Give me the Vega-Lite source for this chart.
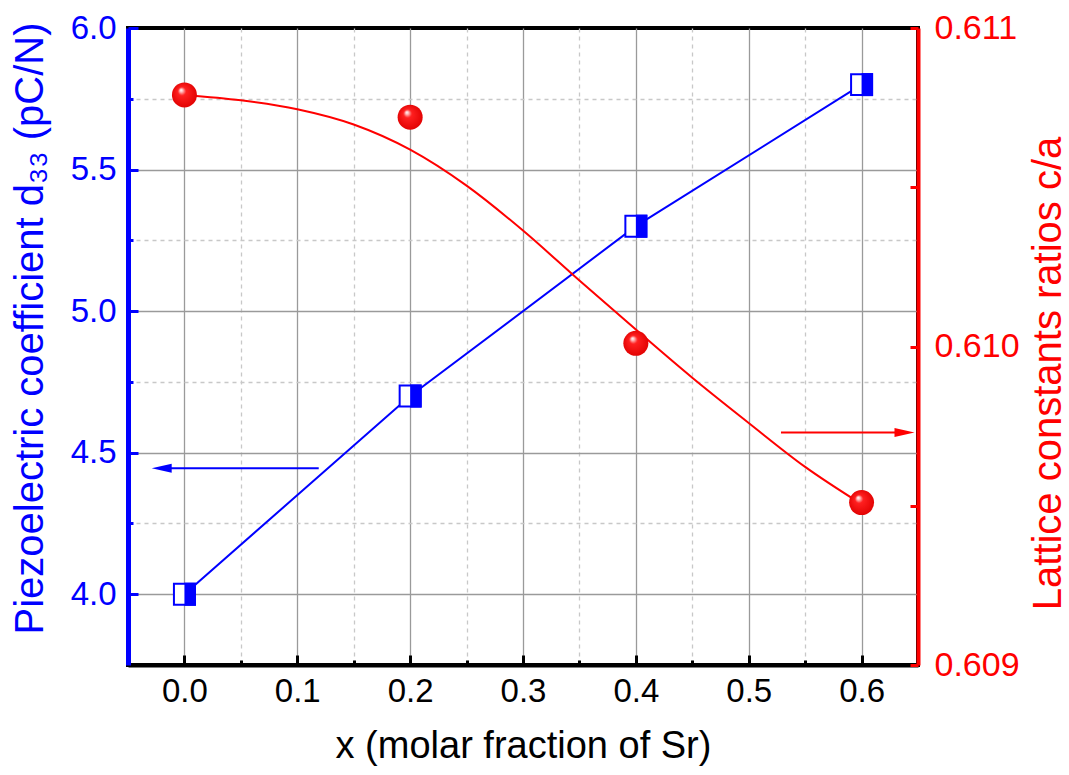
{
  "$schema": "https://vega.github.io/schema/vega-lite/v6.json",
  "width": 790,
  "height": 637,
  "autosize": {"type": "none"},
  "padding": {"left": 128, "top": 28, "right": 151, "bottom": 110},
  "background": "white",
  "config": {
    "view": {"stroke": "black", "strokeWidth": 4},
    "font": "Liberation Sans",
    "axis": {"labelFont": "Liberation Sans", "titleFont": "Liberation Sans", "titleFontWeight": "normal", "labelOverlap": false, "labelFlush": false}
  },
  "resolve": {"scale": {"y": "independent"}, "axis": {"y": "independent"}},
  "encoding": {
    "x": {
      "field": "x",
      "type": "quantitative",
      "scale": {"domain": [-0.05, 0.65], "nice": false, "zero": false},
      "axis": {
        "title": "x (molar fraction of Sr)",
        "values": [0, 0.05, 0.1, 0.15, 0.2, 0.25, 0.3, 0.35, 0.4, 0.45, 0.5, 0.55, 0.6],
        "labelExpr": "round(datum.value*20) % 2 == 0 ? format(datum.value, '.1f') : ''",
        "domainColor": "black",
        "domainWidth": 4,
        "tickColor": "black",
        "tickWidth": 3,
        "tickSize": {"condition": {"test": "round(datum.value*20) % 2 == 1", "value": -5}, "value": -10},
        "grid": true,
        "gridColor": {"condition": {"test": "round(datum.value*20) % 2 == 1", "value": "#c8c8c8"}, "value": "#9a9a9a"},
        "gridDash": {"condition": {"test": "round(datum.value*20) % 2 == 1", "value": [4, 4]}, "value": []},
        "gridWidth": 1.3,
        "labelFontSize": 33,
        "labelColor": "black",
        "labelPadding": 20,
        "titleFontSize": 38,
        "titleColor": "black",
        "titlePadding": 14
      }
    }
  },
  "layer": [
    {
      "data": {
        "values": [
          {"x": 0.0, "v": 4.0, "s": "d33"},
          {"x": 0.2, "v": 4.7, "s": "d33"},
          {"x": 0.4, "v": 5.3, "s": "d33"},
          {"x": 0.6, "v": 5.8, "s": "d33"},
          {"x": 0.119, "v": 4.445, "s": "arrow"},
          {"x": -0.02, "v": 4.445, "s": "arrow"},
          {"x": -0.029, "v": 4.445, "s": "head"}
        ]
      },
      "encoding": {
        "y": {
          "field": "v",
          "type": "quantitative",
          "scale": {"domain": [3.75, 6], "nice": false, "zero": false},
          "axis": {
            "title": "Piezoelectric coefficient d₃₃ (pC/N)",
            "orient": "left",
            "values": [4, 4.25, 4.5, 4.75, 5, 5.25, 5.5, 5.75, 6],
            "labelExpr": "round(datum.value*4) % 2 == 0 ? format(datum.value, '.1f') : ''",
            "domainColor": "#0000ff",
            "domainWidth": 5,
            "tickColor": "#0000ff",
            "tickWidth": 3,
            "tickSize": {"condition": {"test": "round(datum.value*4) % 2 == 1", "value": -5}, "value": -10},
            "grid": true,
            "gridColor": {"condition": {"test": "round(datum.value*4) % 2 == 1", "value": "#c8c8c8"}, "value": "#9a9a9a"},
            "gridDash": {"condition": {"test": "round(datum.value*4) % 2 == 1", "value": [4, 4]}, "value": []},
            "gridOpacity": {"condition": {"test": "datum.value > 5.9", "value": 0}, "value": 1},
            "gridWidth": 1.3,
            "labelFontSize": 33,
            "labelColor": "#0000ff",
            "labelPadding": 22,
            "titleFontSize": 40,
            "titleColor": "#0000ff",
            "titleBaseline": "middle",
            "titleX": -98,
            "titleY": 300
          }
        }
      },
      "layer": [
        {"transform": [{"filter": "datum.s == 'd33'"}], "mark": {"type": "line", "color": "#0000ff", "strokeWidth": 2}},
        {"transform": [{"filter": "datum.s == 'd33'"}], "mark": {"type": "point", "shape": "square", "filled": true, "fill": "white", "stroke": "#0000ff", "strokeWidth": 2, "size": 440, "opacity": 1}},
        {"transform": [{"filter": "datum.s == 'd33'"}], "mark": {"type": "point", "shape": "M0,-1.1H1.1V1.1H0Z", "filled": true, "fill": "#0000ff", "strokeWidth": 0, "size": 440, "opacity": 1}},
        {"transform": [{"filter": "datum.s == 'arrow'"}], "mark": {"type": "line", "color": "#0000ff", "strokeWidth": 2}},
        {"transform": [{"filter": "datum.s == 'head'"}], "mark": {"type": "point", "shape": "M0,0L2,-0.45L2,0.45Z", "filled": true, "fill": "#0000ff", "strokeWidth": 0, "size": 400, "opacity": 1}}
      ]
    },
    {
      "data": {
        "values": [
          {"x": 0.0, "v": 0.61079, "s": "pt"},
          {"x": 0.2, "v": 0.61072, "s": "pt"},
          {"x": 0.4, "v": 0.61001, "s": "pt"},
          {"x": 0.6, "v": 0.60951, "s": "pt"},
          {"x": 0.0, "v": 0.61079, "s": "fit"},
          {"x": 0.05, "v": 0.610773, "s": "fit"},
          {"x": 0.1, "v": 0.610745, "s": "fit"},
          {"x": 0.15, "v": 0.610697, "s": "fit"},
          {"x": 0.2, "v": 0.610618, "s": "fit"},
          {"x": 0.25, "v": 0.610505, "s": "fit"},
          {"x": 0.3, "v": 0.610364, "s": "fit"},
          {"x": 0.35, "v": 0.610207, "s": "fit"},
          {"x": 0.4, "v": 0.610053, "s": "fit"},
          {"x": 0.45, "v": 0.609902, "s": "fit"},
          {"x": 0.5, "v": 0.60976, "s": "fit"},
          {"x": 0.55, "v": 0.609622, "s": "fit"},
          {"x": 0.6, "v": 0.609505, "s": "fit"},
          {"x": 0.5286, "v": 0.60973, "s": "arrow"},
          {"x": 0.64, "v": 0.60973, "s": "arrow"},
          {"x": 0.6469, "v": 0.60973, "s": "head"}
        ]
      },
      "encoding": {
        "y": {
          "field": "v",
          "type": "quantitative",
          "scale": {"domain": [0.609, 0.611], "nice": false, "zero": false},
          "axis": {
            "title": "Lattice constants ratios c/a",
            "orient": "right",
            "values": [0.609, 0.6095, 0.61, 0.6105, 0.611],
            "labelExpr": "round(datum.value*2000) % 2 == 0 ? format(datum.value, '.3f') : ''",
            "domainColor": "#ff0000",
            "domainWidth": 4,
            "tickColor": "#ff0000",
            "tickWidth": 3,
            "tickSize": -8,
            "grid": false,
            "labelFontSize": 34,
            "labelColor": "#ff0000",
            "labelPadding": 24,
            "titleFontSize": 40,
            "titleColor": "#ff0000",
            "titleAngle": 270,
            "titleBaseline": "middle",
            "titleX": 130,
            "titleY": 345
          }
        }
      },
      "layer": [
        {"transform": [{"filter": "datum.s == 'fit'"}], "mark": {"type": "line", "color": "#ff0000", "strokeWidth": 2, "interpolate": "monotone"}},
        {"transform": [{"filter": "datum.s == 'arrow'"}], "mark": {"type": "line", "color": "#ff0000", "strokeWidth": 2}},
        {"transform": [{"filter": "datum.s == 'head'"}], "mark": {"type": "point", "shape": "M0,0L-2,-0.45L-2,0.45Z", "filled": true, "fill": "#ff0000", "strokeWidth": 0, "size": 400, "opacity": 1}},
        {"transform": [{"filter": "datum.s == 'pt'"}], "mark": {"type": "point", "shape": "circle", "filled": true, "size": 625, "opacity": 1, "strokeWidth": 0,
          "fill": {"gradient": "radial", "x1": 0.36, "y1": 0.3, "r1": 0, "x2": 0.5, "y2": 0.5, "r2": 0.55,
            "stops": [{"offset": 0, "color": "#ffffff"}, {"offset": 0.1, "color": "#ffc8c8"}, {"offset": 0.3, "color": "#ff2020"}, {"offset": 1, "color": "#e00000"}]}}}
      ]
    }
  ]
}
